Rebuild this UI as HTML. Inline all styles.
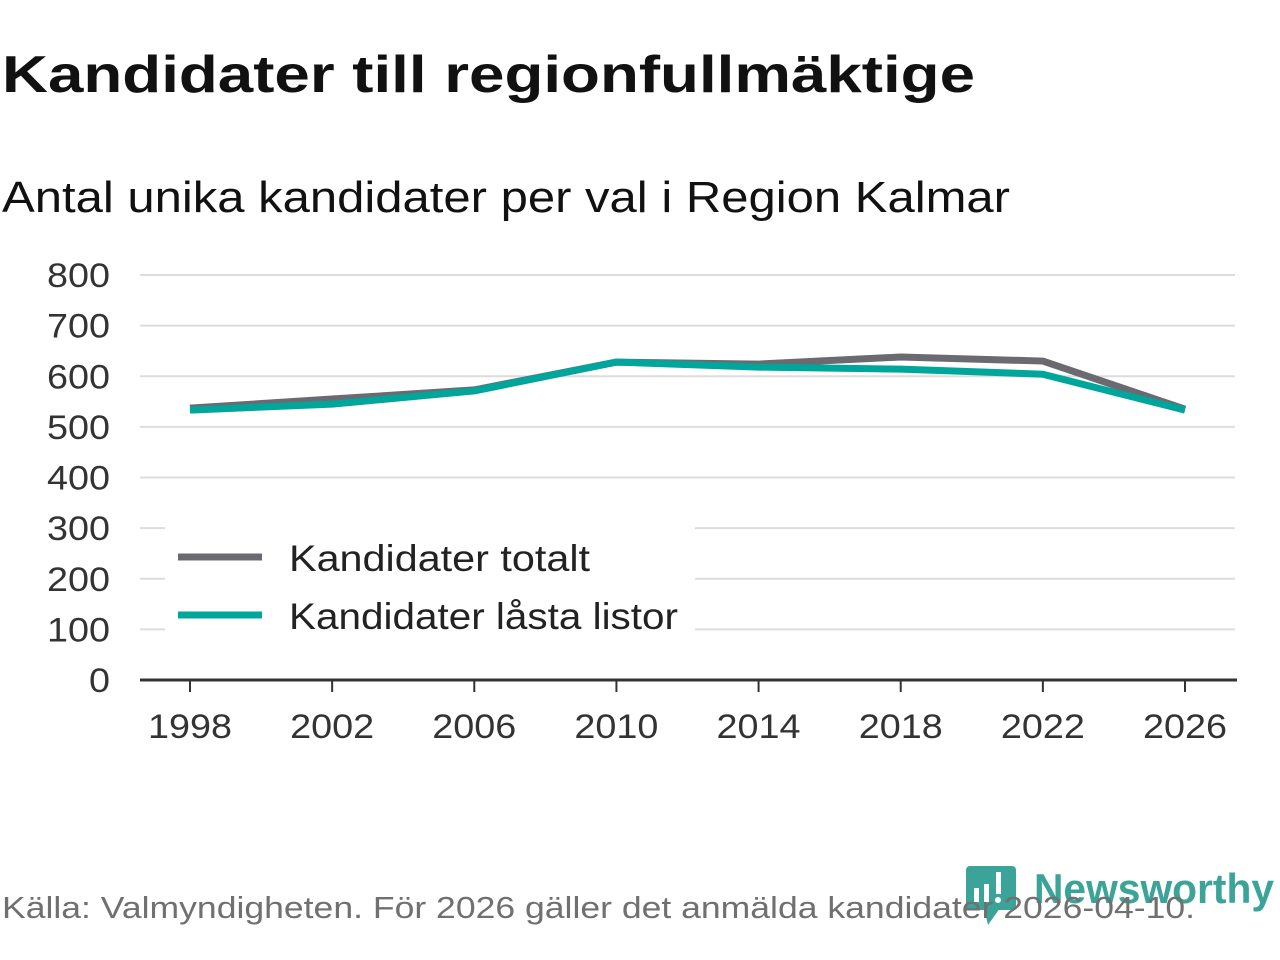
<!DOCTYPE html>
<html><head><meta charset="utf-8"><style>
body{margin:0;width:1280px;height:960px;background:#fff;overflow:hidden;font-family:"Liberation Sans",sans-serif}
svg{position:absolute;left:0;top:0}
</style></head><body>
<svg width="1280" height="960">
<text x="2" y="92" font-size="52" font-weight="bold" fill="#111" textLength="973" lengthAdjust="spacingAndGlyphs">Kandidater till regionfullmäktige</text>
<text x="2" y="212" font-size="44" fill="#111" textLength="1008" lengthAdjust="spacingAndGlyphs">Antal unika kandidater per val i Region Kalmar</text>
<g id="grid"></g><g id="xaxis"></g><g id="lines"></g>
<g>
<rect x="165" y="527" width="530" height="105" fill="#fff" opacity="0.95"/>
<line x1="178" y1="557" x2="262" y2="557" stroke="#6b6a70" stroke-width="7"/>
<text x="289" y="571" font-size="37" fill="#222" textLength="301" lengthAdjust="spacingAndGlyphs">Kandidater totalt</text>
<line x1="178" y1="615" x2="262" y2="615" stroke="#00a69c" stroke-width="7"/>
<text x="289" y="629" font-size="37" fill="#222" textLength="389" lengthAdjust="spacingAndGlyphs">Kandidater låsta listor</text>
</g>
<g>
<rect x="966" y="866" width="50" height="44" rx="4" fill="#3ba398"/>
<polygon points="984,908 1000,908 988,925" fill="#3ba398"/>
<rect x="974" y="888" width="5" height="14" fill="#fff"/><rect x="984" y="884" width="5" height="18" fill="#fff"/><rect x="996" y="872" width="5" height="22" fill="#fff"/><circle cx="998" cy="900" r="3" fill="#fff"/>
<text x="1034" y="903" font-size="42" font-weight="bold" fill="#3ba398" textLength="240" lengthAdjust="spacingAndGlyphs">Newsworthy</text>
</g>
<text x="2" y="918" font-size="31" fill="#707070" textLength="1193" lengthAdjust="spacingAndGlyphs">Källa: Valmyndigheten. För 2026 gäller det anmälda kandidater 2026-04-10.</text>
</svg>
<script>
const years=[1998,2002,2006,2010,2014,2018,2022,2026];
const totalt=[537,555,573,628,624,638,630,535];
const lasta=[533,545,571,628,618,614,604,533];
const yTicks=[0,100,200,300,400,500,600,700,800];
const ns="http://www.w3.org/2000/svg";
const X=v=>190+(v-1998)*(995/28), Y=v=>680-v*0.50625;
function mk(t,a,p){const e=document.createElementNS(ns,t);for(const k in a)e.setAttribute(k,a[k]);p.appendChild(e);return e;}
const g=document.getElementById('grid'),xa=document.getElementById('xaxis'),ln=document.getElementById('lines');
yTicks.forEach(v=>{
 if(v>0){const l=mk('line',{x1:140,x2:1235,y1:Y(v),y2:Y(v),stroke:'#ddd','stroke-width':2},g);
 
 }
 const s=String(v);
 const t=mk('text',{x:110,y:Y(v)+12,'font-size':34,fill:'#333','text-anchor':'end',textLength:s.length*21,lengthAdjust:'spacingAndGlyphs'},g);t.textContent=s;
 
 
});
const ax=mk('line',{x1:140,x2:1237,y1:680,y2:680,stroke:'#333','stroke-width':3},xa);


years.forEach(y=>{
 mk('line',{x1:X(y),x2:X(y),y1:680,y2:692,stroke:'#333','stroke-width':2},xa);
 const t=mk('text',{x:X(y),y:738,'font-size':34,fill:'#333','text-anchor':'middle',textLength:84,lengthAdjust:'spacingAndGlyphs'},xa);t.textContent=y;
 
 
});
[[totalt,'#6b6a70','line-totalt'],[lasta,'#00a69c','line-lasta']].forEach(([d,c,n])=>{
 const p=mk('polyline',{points:d.map((v,i)=>X(years[i])+','+Y(v)).join(' '),fill:'none',stroke:c,'stroke-width':7,'stroke-linejoin':'round'},ln);
 
 
});
</script>
</body></html>
